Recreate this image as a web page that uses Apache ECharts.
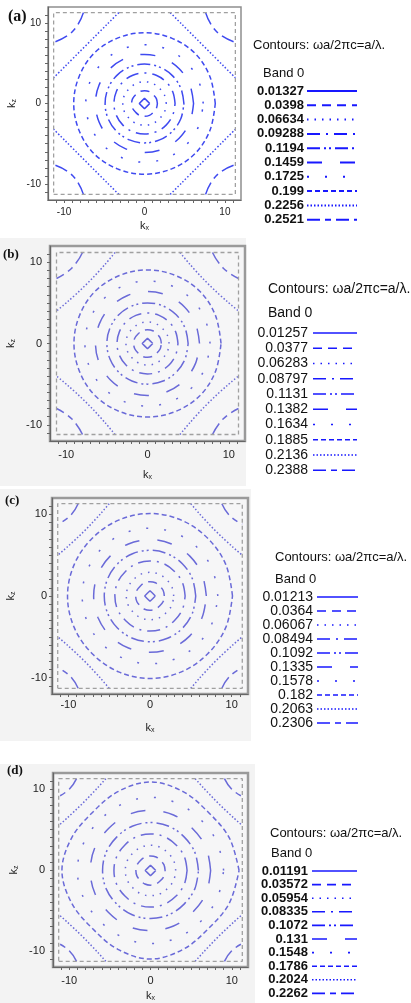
<!DOCTYPE html>
<html>
<head>
<meta charset="utf-8">
<script src="https://cdn.jsdelivr.net/npm/echarts@6/dist/echarts.min.js"></script>
<style>
html, body { margin: 0; padding: 0; background: #fff; }
#main { width: 411px; height: 1003px; }
</style>
</head>
<body>
<div id="main"></div>
<script>
// contour levels (omega a / 2 pi c), band 0, one list per panel
var levelsA = ['0.01327', '0.0398', '0.06634', '0.09288', '0.1194', '0.1459', '0.1725', '0.199', '0.2256', '0.2521'];
var levelsB = ['0.01257', '0.0377', '0.06283', '0.08797', '0.1131', '0.1382', '0.1634', '0.1885', '0.2136', '0.2388'];
var levelsC = ['0.01213', '0.0364', '0.06067', '0.08494', '0.1092', '0.1335', '0.1578', '0.182', '0.2063', '0.2306'];
var levelsD = ['0.01191', '0.03572', '0.05954', '0.08335', '0.1072', '0.131', '0.1548', '0.1786', '0.2024', '0.2262'];

// angles (deg) where the ring radii were read
var sampleAngles = [0, 22.5, 45, 67.5, 90, 112.5, 135, 157.5, 180, 202.5, 225, 247.5, 270, 292.5, 315, 337.5, 360];

// closed contours (levels 1..8): radius on the axes, at 22.5 deg, on the diagonals
var ringAxisA = [0.65, 1.6, 2.7, 3.8, 4.9, 6.1, 7.3, 8.8];
var ringMidA  = [0.5, 1.6, 2.7, 3.8, 4.9, 6.1, 7.3, 8.8];
var ringDiagA = [0.46, 1.55, 2.65, 3.8, 4.9, 6.1, 7.3, 8.85];

var ringAxisB = [0.65, 1.7, 2.65, 3.75, 5.0, 6.4, 7.7, 9.05];
var ringMidB  = [0.5, 1.7, 2.65, 3.75, 5.0, 6.4, 7.7, 9.05];
var ringDiagB = [0.46, 1.65, 2.6, 3.75, 5.0, 6.4, 7.7, 9.1];

var ringAxisC = [0.65, 1.75, 2.9, 4.3, 5.6, 6.9, 8.3, 10.1];
var ringMidC  = [0.5, 1.75, 2.9, 4.3, 5.6, 6.9, 8.3, 10.05];
var ringDiagC = [0.46, 1.7, 2.85, 4.25, 5.6, 6.9, 8.3, 10.0];

var ringAxisD = [0.65, 1.8, 3.1, 4.5, 5.9, 7.4, 9.0, 10.9];
var ringMidD  = [0.5, 1.8, 3.1, 4.5, 5.9, 7.4, 8.9, 10.5];
var ringDiagD = [0.46, 1.75, 3.05, 4.45, 5.85, 7.3, 8.8, 10.1];

// open contours around the zone corners: [k where it meets the zone edge, k on the diagonal]
var bigArcA = [3.2, 7.25], smallArcA = [7.6, 8.95];
var bigArcB = [4.0, 7.4], smallArcB = [8.0, 9.3];
var bigArcC = [5.0, 8.0], smallArcC = [8.8, 9.8];
var bigArcD = [5.5, 8.3], smallArcD = [9.1, 10.0];

// Brillouin zone edge (dashed box)
var zoneEdge = [11.3, 11.2, 11.3, 11.3];
var tickLabels = [-10, 0, 10];

var dashTypes = ['solid', [9, 6], [1.5, 6], [13, 6, 2, 6], [13, 4, 2, 3, 2, 4],
    [15, 18], [2, 16], [5, 3], [1.5, 2], [13, 5, 6, 5]];

var panels = [
    { tag: '(a)', levels: levelsA, rAxis: ringAxisA, rMid: ringMidA, rDiag: ringDiagA, big: bigArcA, small: smallArcA,
      left: 48, top: 7, size: 193, color: '#3f4af0', frame: '#8e8e8e', frameW: 1.5, plotBg: '#ffffff',
      labelSize: 10, labelMargin: 7, xNameGap: 19, yNameGap: 30,
      tagX: 8, tagY: 17, tagFont: 'bold 16px "Liberation Serif"',
      lg: { tx: 253, ty: 45, tFont: '13px "Liberation Sans"', bx: 263, by: 73,
            lx: 304, y0: 91, dy: 14.3, x1: 307, x2: 357, font: 'bold 13px "Liberation Sans Narrow", "Liberation Sans"' } },
    { tag: '(b)', levels: levelsB, rAxis: ringAxisB, rMid: ringMidB, rDiag: ringDiagB, big: bigArcB, small: smallArcB,
      left: 50, top: 246, size: 195, color: '#6a6ad8', frame: '#9a9a9a', frameW: 2.5, plotBg: '#f6f6f7',
      labelSize: 11, labelMargin: 8, xNameGap: 27, yNameGap: 33,
      tagX: 3, tagY: 255, tagFont: 'bold 13px "Liberation Serif"',
      lg: { tx: 268, ty: 289, tFont: '14px "Liberation Sans"', bx: 268, by: 313,
            lx: 308, y0: 333, dy: 15.25, x1: 313, x2: 357, font: '14px "Liberation Sans"' } },
    { tag: '(c)', levels: levelsC, rAxis: ringAxisC, rMid: ringMidC, rDiag: ringDiagC, big: bigArcC, small: smallArcC,
      left: 52, top: 498, size: 196, color: '#6a6ad8', frame: '#9a9a9a', frameW: 2.5, plotBg: '#f6f6f7',
      labelSize: 11, labelMargin: 5, xNameGap: 27, yNameGap: 35,
      tagX: 5, tagY: 501, tagFont: 'bold 13px "Liberation Serif"',
      lg: { tx: 275, ty: 557, tFont: '13px "Liberation Sans"', bx: 275, by: 579,
            lx: 313, y0: 597, dy: 14.0, x1: 317, x2: 358, font: '14px "Liberation Sans"' } },
    { tag: '(d)', levels: levelsD, rAxis: ringAxisD, rMid: ringMidD, rDiag: ringDiagD, big: bigArcD, small: smallArcD,
      left: 53, top: 773, size: 195, color: '#6a6ad8', frame: '#9a9a9a', frameW: 2.5, plotBg: '#f6f6f7',
      labelSize: 11, labelMargin: 8, xNameGap: 22, yNameGap: 33,
      tagX: 7, tagY: 771, tagFont: 'bold 13px "Liberation Serif"',
      lg: { tx: 270, ty: 833, tFont: '13px "Liberation Sans"', bx: 271, by: 853,
            lx: 308, y0: 871, dy: 13.6, x1: 312, x2: 357, font: 'bold 13px "Liberation Sans"' } }
];

// gray panel backgrounds of (b)-(d)
var panelBgs = [[0, 238, 246, 248], [0, 489, 251, 252], [0, 764, 255, 239]];

var chart = echarts.init(document.getElementById('main'));

var grids = [], xAxes = [], yAxes = [], polars = [], angleAxes = [], radiusAxes = [];
var series = [], graphics = [];
var corners = [[1, 1], [-1, 1], [-1, -1], [1, -1]];

function labelFmt(v) {
    return tickLabels.indexOf(v) >= 0 ? String(v) : '';
}

panelBgs.forEach(function (b) {
    graphics.push({ type: 'rect', z: -10, silent: true, shape: { x: b[0], y: b[1], width: b[2], height: b[3] },
        style: { fill: '#f3f3f3' } });
});

panels.forEach(function (p, pi) {
    var half = p.size / 2;
    grids.push({ left: p.left, top: p.top, width: p.size, height: p.size, show: true,
        backgroundColor: p.plotBg, borderColor: p.frame, borderWidth: p.frameW });

    var axisCommon = {
        type: 'value', gridIndex: pi, min: -12, max: 12, interval: 1,
        axisLine: { show: true, onZero: false, lineStyle: { color: '#666', width: 1.2 } },
        axisTick: { show: true, length: 3, lineStyle: { color: '#666' } },
        axisLabel: { formatter: labelFmt, fontSize: p.labelSize, color: '#222', margin: p.labelMargin,
            fontFamily: 'Liberation Sans', showMinLabel: false, showMaxLabel: false },
        splitLine: { show: false },
        nameLocation: 'middle',
        nameTextStyle: { fontSize: 11, color: '#222', fontFamily: 'Liberation Sans',
            rich: { s: { fontSize: 7, padding: [6, 0, 0, 0], fontFamily: 'Liberation Sans', color: '#222' } } }
    };
    xAxes.push(Object.assign({}, axisCommon, { name: 'k{s|x}', nameGap: p.xNameGap }));
    yAxes.push(Object.assign({}, axisCommon, { name: 'k{s|z}', nameGap: p.yNameGap, nameRotate: 90 }));

    polars.push({ center: [p.left + half, p.top + half], radius: half });
    angleAxes.push({ polarIndex: pi, type: 'value', min: 0, max: 360, startAngle: 0, clockwise: false, show: false });
    radiusAxes.push({ polarIndex: pi, type: 'value', min: 0, max: 12, show: false });

    // closed rings, levels 1..8
    p.rAxis.forEach(function (r0, i) {
        var pick = [p.rAxis[i], p.rMid[i], p.rDiag[i], p.rMid[i]];
        series.push({
            type: 'line', coordinateSystem: 'polar', polarIndex: pi,
            data: sampleAngles.map(function (a, k) { return [pick[k % 4], a]; }),
            symbol: 'none', smooth: i === 0 ? false : 0.35, silent: true,
            lineStyle: { color: p.color, width: 1.5, type: dashTypes[i] }
        });
    });

    // corner contours, levels 9 and 10
    var edge = zoneEdge[pi];
    [[p.big, 8], [p.small, 9]].forEach(function (arc) {
        corners.forEach(function (c) {
            series.push({
                type: 'line', xAxisIndex: pi, yAxisIndex: pi,
                data: [[c[0] * arc[0][0], c[1] * edge], [c[0] * arc[0][1], c[1] * arc[0][1]], [c[0] * edge, c[1] * arc[0][0]]],
                symbol: 'none', smooth: 0.5, silent: true,
                lineStyle: { color: p.color, width: 1.5, type: dashTypes[arc[1]] }
            });
        });
    });

    // zone boundary
    series.push({
        type: 'line', xAxisIndex: pi, yAxisIndex: pi, symbol: 'none', silent: true,
        data: [[-edge, -edge], [edge, -edge], [edge, edge], [-edge, edge], [-edge, -edge]],
        lineStyle: { color: '#a0a0a0', width: 1.3, type: [4, 3] }
    });

    // panel tag
    graphics.push({ type: 'text', x: p.tagX, y: p.tagY, silent: true,
        style: { text: p.tag, font: p.tagFont, fill: '#111', verticalAlign: 'middle' } });

    // legend
    var lg = p.lg;
    graphics.push({ type: 'text', x: lg.tx, y: lg.ty, silent: true,
        style: { text: 'Contours: \u03c9a/2\u03c0c=a/\u03bb.', font: lg.tFont, fill: '#111', verticalAlign: 'middle' } });
    graphics.push({ type: 'text', x: lg.bx, y: lg.by, silent: true,
        style: { text: 'Band 0', font: lg.tFont, fill: '#111', verticalAlign: 'middle' } });
    p.levels.forEach(function (lv, i) {
        var y = lg.y0 + i * lg.dy;
        graphics.push({ type: 'text', x: lg.lx, y: y, silent: true,
            style: { text: lv, font: lg.font, fill: '#111', align: 'right', verticalAlign: 'middle' } });
        graphics.push({ type: 'line', silent: true, shape: { x1: lg.x1, y1: y, x2: lg.x2, y2: y },
            style: { stroke: '#1818ff', lineWidth: pi === 0 ? 2 : 1.6, lineDash: dashTypes[i] === 'solid' ? null : dashTypes[i] } });
    });
});

// white legend box of (d)
graphics.push({ type: 'rect', z: -9, silent: true, shape: { x: 255, y: 818, width: 156, height: 185 },
    style: { fill: '#ffffff' } });

chart.setOption({
    animation: false,
    grid: grids,
    xAxis: xAxes,
    yAxis: yAxes,
    polar: polars,
    angleAxis: angleAxes,
    radiusAxis: radiusAxes,
    series: series,
    graphic: graphics
});
</script>
</body>
</html>
